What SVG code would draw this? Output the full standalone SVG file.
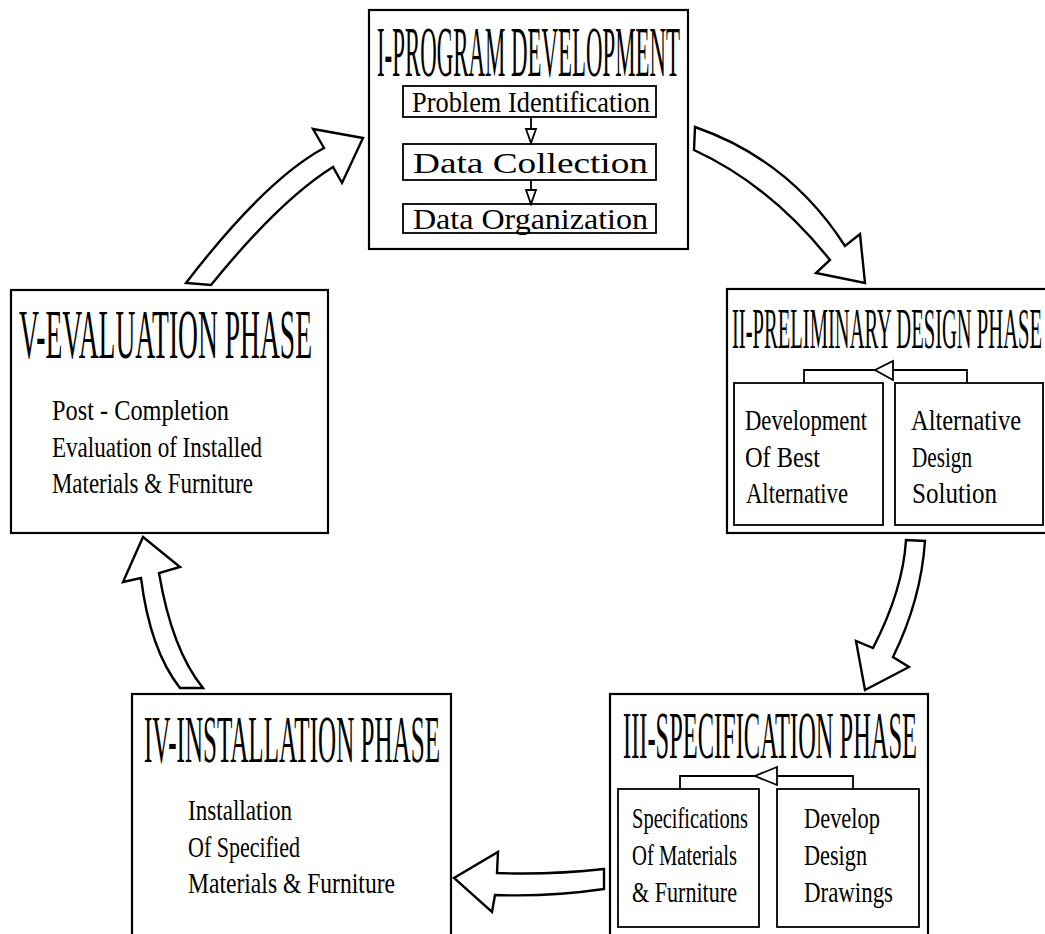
<svg xmlns="http://www.w3.org/2000/svg" width="1045" height="934" viewBox="0 0 1045 934">
<style>
.box{fill:#fff;stroke:#000;stroke-width:2.2}
.sub{fill:#fff;stroke:#000;stroke-width:1.8}
.title{font-family:"Liberation Serif",serif;fill:#000}
.t{font-family:"Liberation Serif",serif;font-size:30px;fill:#000}
.big{fill:#fff;stroke:#000;stroke-width:2.4;stroke-linejoin:miter}
.ln{fill:none;stroke:#000;stroke-width:1.8}
.tri{fill:#fff;stroke:#000;stroke-width:1.8}
</style>
<rect width="1045" height="934" fill="#fff"/>

<g id="node-I">
<rect class="box" x="369" y="10" width="319" height="239"/>
<text class="title" x="377" y="76" font-size="72" textLength="303" lengthAdjust="spacingAndGlyphs">I-PROGRAM DEVELOPMENT</text>
<g id="node-I-problem">
<rect class="sub" x="403" y="86" width="253" height="31"/>
<text class="t" x="412" y="112" textLength="238" lengthAdjust="spacingAndGlyphs">Problem Identification</text>
</g>
<g id="node-I-collection">
<rect class="sub" x="403" y="144" width="253" height="36"/>
<text class="t" x="413" y="173" font-size="35" textLength="235" lengthAdjust="spacingAndGlyphs">Data Collection</text>
</g>
<g id="node-I-organization">
<rect class="sub" x="403" y="204" width="253" height="29"/>
<text class="t" x="413" y="229" font-size="34" textLength="235" lengthAdjust="spacingAndGlyphs">Data Organization</text>
</g>
</g>

<g id="node-II">
<rect class="box" x="727" y="289" width="330" height="244"/>
<text class="title" x="732" y="348" font-size="57" textLength="310" lengthAdjust="spacingAndGlyphs">II-PRELIMINARY DESIGN PHASE</text>
<g id="node-II-best">
<rect class="sub" x="734" y="383" width="149" height="142"/>
<text class="t" x="745" y="430" textLength="122" lengthAdjust="spacingAndGlyphs">Development</text>
<text class="t" x="745" y="467" textLength="75" lengthAdjust="spacingAndGlyphs">Of Best</text>
<text class="t" x="746" y="503" textLength="102" lengthAdjust="spacingAndGlyphs">Alternative</text>
</g>
<g id="node-II-alt">
<rect class="sub" x="895" y="383" width="148" height="142"/>
<text class="t" x="911" y="430" textLength="110" lengthAdjust="spacingAndGlyphs">Alternative</text>
<text class="t" x="912" y="467" textLength="60" lengthAdjust="spacingAndGlyphs">Design</text>
<text class="t" x="912" y="503" textLength="85" lengthAdjust="spacingAndGlyphs">Solution</text>
</g>
</g>

<g id="node-III">
<rect class="box" x="610" y="694" width="318" height="250"/>
<text class="title" x="623" y="758" font-size="68" textLength="294" lengthAdjust="spacingAndGlyphs">III-SPECIFICATION PHASE</text>
<g id="node-III-spec">
<rect class="sub" x="618" y="789" width="141" height="138"/>
<text class="t" x="632" y="828" textLength="116" lengthAdjust="spacingAndGlyphs">Specifications</text>
<text class="t" x="632" y="865" textLength="105" lengthAdjust="spacingAndGlyphs">Of Materials</text>
<text class="t" x="632" y="902" textLength="105" lengthAdjust="spacingAndGlyphs">&amp; Furniture</text>
</g>
<g id="node-III-draw">
<rect class="sub" x="777" y="789" width="142" height="138"/>
<text class="t" x="804" y="828" textLength="76" lengthAdjust="spacingAndGlyphs">Develop</text>
<text class="t" x="804" y="865" textLength="63" lengthAdjust="spacingAndGlyphs">Design</text>
<text class="t" x="804" y="902" textLength="89" lengthAdjust="spacingAndGlyphs">Drawings</text>
</g>
</g>

<g id="node-IV">
<rect class="box" x="132" y="694" width="319" height="250"/>
<text class="title" x="144" y="762" font-size="68" textLength="296" lengthAdjust="spacingAndGlyphs">IV-INSTALLATION PHASE</text>
<text class="t" x="188" y="820" textLength="104" lengthAdjust="spacingAndGlyphs">Installation</text>
<text class="t" x="188" y="857" textLength="112" lengthAdjust="spacingAndGlyphs">Of Specified</text>
<text class="t" x="188" y="893" textLength="207" lengthAdjust="spacingAndGlyphs">Materials &amp; Furniture</text>
</g>

<g id="node-V">
<rect class="box" x="11" y="290" width="317" height="243"/>
<text class="title" x="19" y="358" font-size="70" textLength="293" lengthAdjust="spacingAndGlyphs">V-EVALUATION PHASE</text>
<text class="t" x="52" y="420" textLength="177" lengthAdjust="spacingAndGlyphs">Post - Completion</text>
<text class="t" x="52" y="457" textLength="210" lengthAdjust="spacingAndGlyphs">Evaluation of Installed</text>
<text class="t" x="52" y="493" textLength="201" lengthAdjust="spacingAndGlyphs">Materials &amp; Furniture</text>
</g>

<g id="connectors">
<path class="big" d="M186,283 Q265,180 324,148 L313,129 L363,138 L342,183 L333,167 Q280,200 211,285 Z"/>
<path class="big" d="M695,127 Q790,160 845,246 L860,234 L865,283 L816,273 L830,260 Q770,185 694,150 Z"/>
<path class="big" d="M906,540 Q903,590 873,648 L856,641 L865,690 L909,667 L893,657 Q921,600 925,541 Z"/>
<path class="big" d="M604,869 Q550,875 497,873 L498,852 L454,878 L492,912 L495,895 Q550,897 604,889 Z"/>
<path class="big" d="M180,688 Q150,650 141,578 L123,582 L143,537 L180,567 L159,573 Q172,650 203,688 Z"/>
<line class="ln" x1="531" y1="117" x2="531" y2="129"/>
<polygon class="tri" points="526,129 536,129 531,143"/>
<line class="ln" x1="531" y1="180" x2="531" y2="190"/>
<polygon class="tri" points="526,190 536,190 531,204"/>
<polyline class="ln" points="967,383 967,370 893,370"/>
<polyline class="ln" points="875,370 804,370 804,383"/>
<polygon class="tri" points="893,361 893,380 875,370"/>
<polyline class="ln" points="853,789 853,776 777,776"/>
<polyline class="ln" points="755,776 680,776 680,789"/>
<polygon class="tri" points="777,767 777,785 755,776"/>
</g>
</svg>
